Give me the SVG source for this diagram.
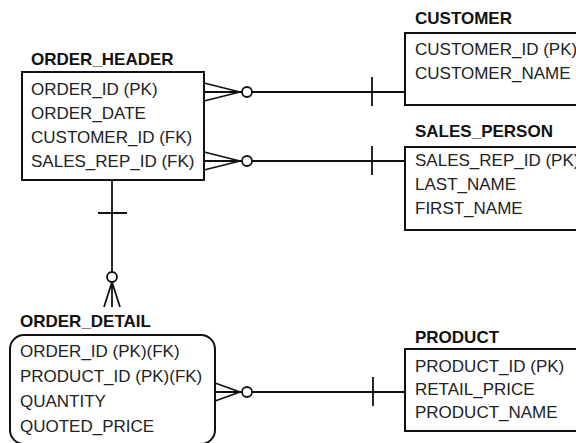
<svg xmlns="http://www.w3.org/2000/svg" width="576" height="443" viewBox="0 0 576 443">
<style>
.box{fill:#fff;stroke:#111;stroke-width:2}
.ln{fill:none;stroke:#111;stroke-width:1.8}
.circ{fill:#fff;stroke:#111;stroke-width:1.8}
.t{font-family:"Liberation Sans",Arial,sans-serif;font-size:17px;font-weight:bold;fill:#111}
.r{font-family:"Liberation Sans",Arial,sans-serif;font-size:17px;fill:#222}
</style>
<rect width="576" height="443" fill="#fff"/>
<g id="connectors">
  <!-- ORDER_HEADER to CUSTOMER -->
  <path class="ln" d="M204,83 L240,92 M204,92 L242,92 M204,101 L240,92 M252,92 L405,92 M372,77 L372,106"/>
  <circle class="circ" cx="247" cy="92" r="5"/>
  <!-- ORDER_HEADER to SALES_PERSON -->
  <path class="ln" d="M204,152 L240,161 M204,161 L242,161 M204,170 L240,161 M252,161 L405,161 M372,146 L372,175"/>
  <circle class="circ" cx="247" cy="161" r="5"/>
  <!-- ORDER_HEADER to ORDER_DETAIL -->
  <path class="ln" d="M112,180 L112,272 M98,213 L127,213 M112,282 L104,307 M112,282 L112,307 M112,282 L120,307"/>
  <circle class="circ" cx="112" cy="277" r="5"/>
  <!-- ORDER_DETAIL to PRODUCT -->
  <path class="ln" d="M215,383 L240,392 M215,392 L242,392 M215,401 L240,392 M252,392 L405,392 M373,377 L373,406"/>
  <circle class="circ" cx="247" cy="392" r="5"/>
</g>
<g id="order_header">
  <text class="t" x="31" y="65">ORDER_HEADER</text>
  <rect class="box" x="22" y="72" width="182" height="108"/>
  <text class="r" x="31" y="95">ORDER_ID (PK)</text>
  <text class="r" x="31" y="119">ORDER_DATE</text>
  <text class="r" x="31" y="143">CUSTOMER_ID (FK)</text>
  <text class="r" x="31" y="167">SALES_REP_ID (FK)</text>
</g>
<g id="customer">
  <text class="t" x="415" y="24">CUSTOMER</text>
  <rect class="box" x="405" y="33" width="180" height="72"/>
  <text class="r" x="415" y="55">CUSTOMER_ID (PK)</text>
  <text class="r" x="415" y="79">CUSTOMER_NAME</text>
</g>
<g id="sales_person">
  <text class="t" x="415" y="137">SALES_PERSON</text>
  <rect class="box" x="405" y="147" width="180" height="83"/>
  <text class="r" x="415" y="166">SALES_REP_ID (PK)</text>
  <text class="r" x="415" y="190">LAST_NAME</text>
  <text class="r" x="415" y="214">FIRST_NAME</text>
</g>
<g id="order_detail">
  <text class="t" x="20" y="327">ORDER_DETAIL</text>
  <rect class="box" x="10" y="335" width="205" height="109" rx="14" ry="14"/>
  <text class="r" x="20" y="357">ORDER_ID (PK)(FK)</text>
  <text class="r" x="20" y="382">PRODUCT_ID (PK)(FK)</text>
  <text class="r" x="20" y="407">QUANTITY</text>
  <text class="r" x="20" y="432">QUOTED_PRICE</text>
</g>
<g id="product">
  <text class="t" x="415" y="343">PRODUCT</text>
  <rect class="box" x="405" y="349" width="180" height="82"/>
  <text class="r" x="415" y="372">PRODUCT_ID (PK)</text>
  <text class="r" x="415" y="395">RETAIL_PRICE</text>
  <text class="r" x="415" y="418">PRODUCT_NAME</text>
</g>
</svg>
